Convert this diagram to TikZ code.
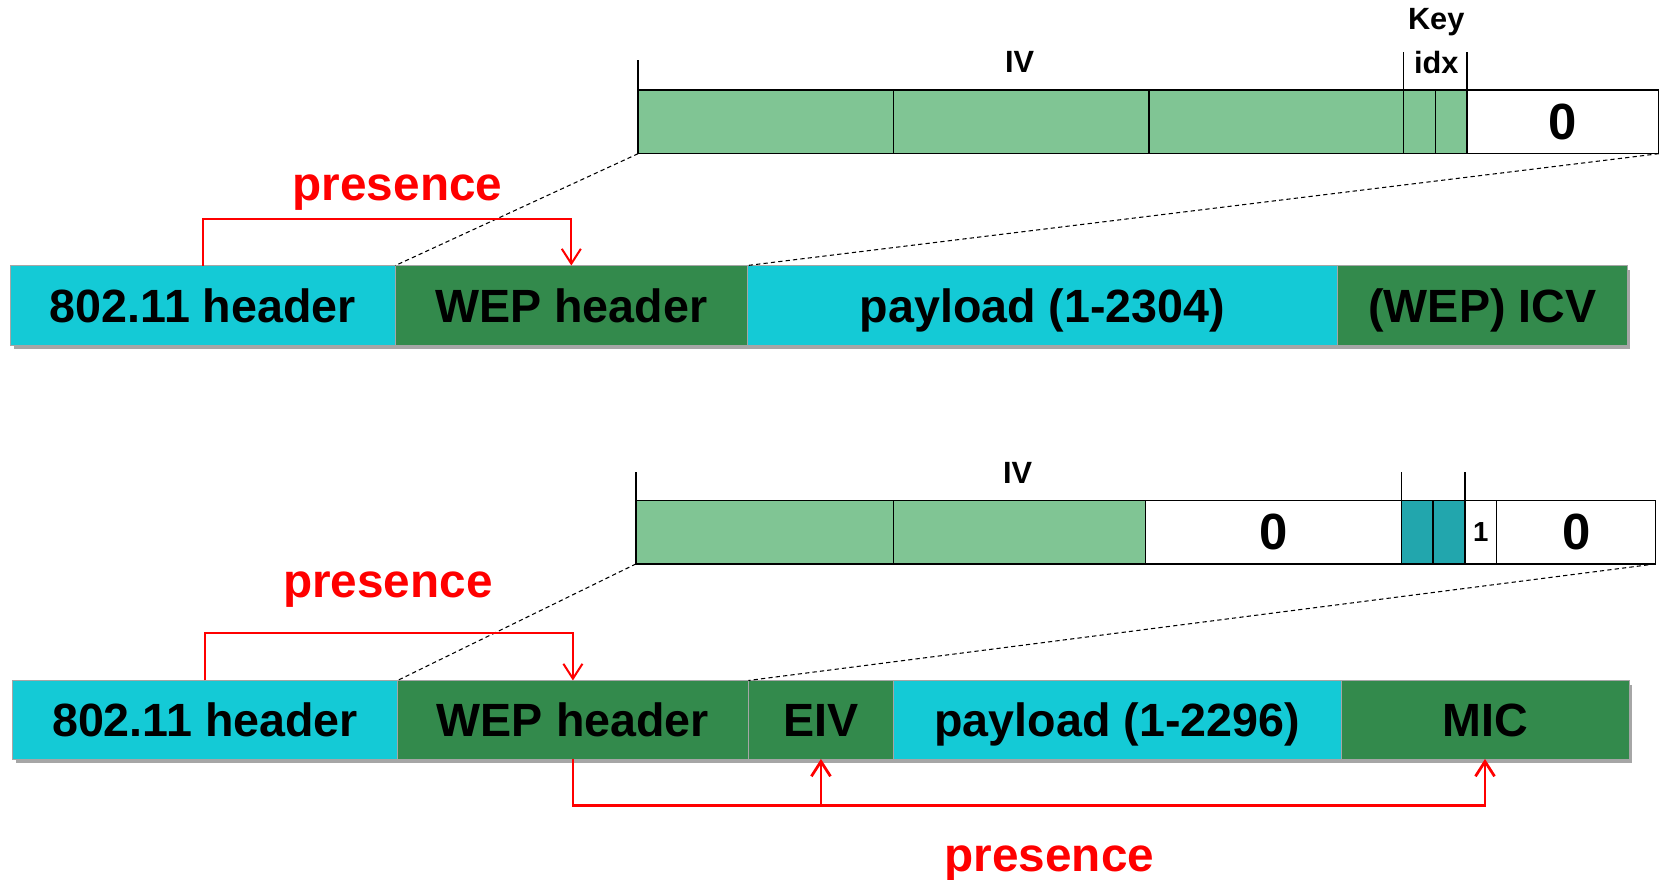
\documentclass[tikz,border=0pt]{standalone}
\usepackage{fontspec}
\setmainfont{Liberation Sans}
\usetikzlibrary{arrows.meta,shadows}

\definecolor{cyanbox}{HTML}{14CAD6}
\definecolor{darkgreen}{HTML}{338A4C}
\definecolor{lightgreen}{HTML}{80C594}
\definecolor{tealcell}{HTML}{22A6AD}
\definecolor{presred}{HTML}{FF0000}

\tikzset{
  field/.style={rectangle, inner sep=0pt, outer sep=0pt, draw=black!35, line width=0.3pt,
    font=\fontsize{22}{26}\selectfont\bfseries, text height=16.2pt, text depth=0pt,
    drop shadow={shadow xshift=1.5pt, shadow yshift=-2pt, fill=black, opacity=0.35}},
  cyanfield/.style={field, fill=cyanbox},
  greenfield/.style={field, fill=darkgreen},
  cell/.style={rectangle, inner sep=0pt, outer sep=0pt, draw=black, line width=0.6pt,
    font=\fontsize{24}{28}\selectfont\bfseries},
  ivcell/.style={cell, fill=lightgreen},
  tealbox/.style={cell, fill=tealcell},
  zerocell/.style={cell, fill=white},
  smalllabel/.style={font=\fontsize{14.5}{17}\selectfont\bfseries, inner sep=0pt},
  tick/.style={draw=black, line width=0.6pt},
  zoomline/.style={draw=black, line width=0.5pt, dash pattern=on 2pt off 1.5pt},
  presline/.style={draw=presred, line width=0.95pt, -{Straight Barb[length=7pt,width=9pt]}},
  preslabel/.style={text=presred, font=\fontsize{22.5}{26}\selectfont\bfseries, inner sep=0pt, anchor=base},
}

\begin{document}
\begin{tikzpicture}[x=0.5pt, y=-0.5pt]
\useasboundingbox (0,0) rectangle (1568,830);

% ---------- WEP frame ----------
\node[cyanfield,  minimum width=181.5pt, minimum height=37.5pt] (h1) at (191.5,288) {802.11 header};
\node[greenfield, minimum width=166pt,   minimum height=37.5pt] (w1) at (539,288)   {WEP header};
\node[cyanfield,  minimum width=278.5pt, minimum height=37.5pt] (p1) at (983.5,288) {payload (1-2304)};
\node[greenfield, minimum width=136.5pt, minimum height=37.5pt] (i1) at (1398.5,288) {(WEP) ICV};

% WEP header detail
\node[ivcell,   minimum width=120.5pt, minimum height=30pt] (c1a) at (722.5,115) {};
\node[ivcell,   minimum width=120.5pt, minimum height=30pt] (c1b) at (963.5,115) {};
\node[ivcell,   minimum width=120pt,   minimum height=30pt] (c1c) at (1204,115) {};
\node[ivcell,   minimum width=15pt,    minimum height=30pt] (c1d) at (1339,115) {};
\node[ivcell,   minimum width=15pt,    minimum height=30pt] (c1e) at (1369,115) {};
\node[zerocell, minimum width=90.5pt,  minimum height=30pt] (c1f) at (1474.5,115) {0};

\draw[tick] (c1a.north west) -- ++(0,-28);
\draw[tick] (c1d.north west) -- ++(0,-36);
\draw[tick] (c1e.north east) -- ++(0,-36);
\node[smalllabel] (iv1) at (962,58) {IV};
\node[smalllabel] (key1) at (1355,21) {Key};
\node[smalllabel] (idx1) at (1355,59) {idx};

\draw[zoomline] (c1a.south west) -- (w1.north west);
\draw[zoomline] (c1f.south east) -- (w1.north east);

\draw[presline] (h1.north) -- ++(0,-44) -| (w1.north);
\node[preslabel] (pr1) at (375,189) {presence};

% ---------- TKIP frame ----------
\node[cyanfield,  minimum width=181.5pt, minimum height=37pt] (h2) at (193.5,679) {802.11 header};
\node[greenfield, minimum width=165.5pt, minimum height=37pt] (w2) at (540.5,679) {WEP header};
\node[greenfield, minimum width=68.5pt,  minimum height=37pt] (e2) at (774.5,679) {EIV};
\node[cyanfield,  minimum width=211pt,   minimum height=37pt] (p2) at (1054,679)  {payload (1-2296)};
\node[greenfield, minimum width=136pt,   minimum height=37pt] (m2) at (1401,679)  {MIC};

% WEP header detail with extended IV flag
\node[ivcell,   minimum width=121.5pt, minimum height=30pt] (c2a) at (721.5,502) {};
\node[ivcell,   minimum width=119pt,   minimum height=30pt] (c2b) at (962,502) {};
\node[zerocell, minimum width=120.5pt, minimum height=30pt] (c2c) at (1201.5,502) {0};
\node[tealbox,  minimum width=15pt,    minimum height=30pt] (c2d) at (1337,502) {};
\node[tealbox,  minimum width=15pt,    minimum height=30pt] (c2e) at (1367,502) {};
\node[zerocell, minimum width=15pt,    minimum height=30pt, font=\fontsize{13}{15}\selectfont\bfseries] (c2f) at (1397,502) {1};
\node[zerocell, minimum width=75pt,    minimum height=30pt] (c2g) at (1487,502) {0};

\draw[tick] (c2a.north west) -- ++(0,-27);
\draw[tick] (c2d.north west) -- ++(0,-27);
\draw[tick] (c2e.north east) -- ++(0,-27);
\node[smalllabel] (iv2) at (960,446) {IV};

\draw[zoomline] (c2a.south west) -- (w2.north west);
\draw[zoomline] (c2g.south east) -- (w2.north east);

\draw[presline] (h2.north) -- ++(0,-45) -| (w2.north);
\node[preslabel] (pr2) at (366,564) {presence};

\coordinate (bend) at ([yshift=-22pt]w2.south);
\draw[presline, line width=1.3pt] (w2.south) -- (bend) -| (m2.south);
\draw[presline, line width=1.3pt] (e2.south |- bend) -- (e2.south);
\node[preslabel] (pr3) at (990,822) {presence};
\end{tikzpicture}
\end{document}
